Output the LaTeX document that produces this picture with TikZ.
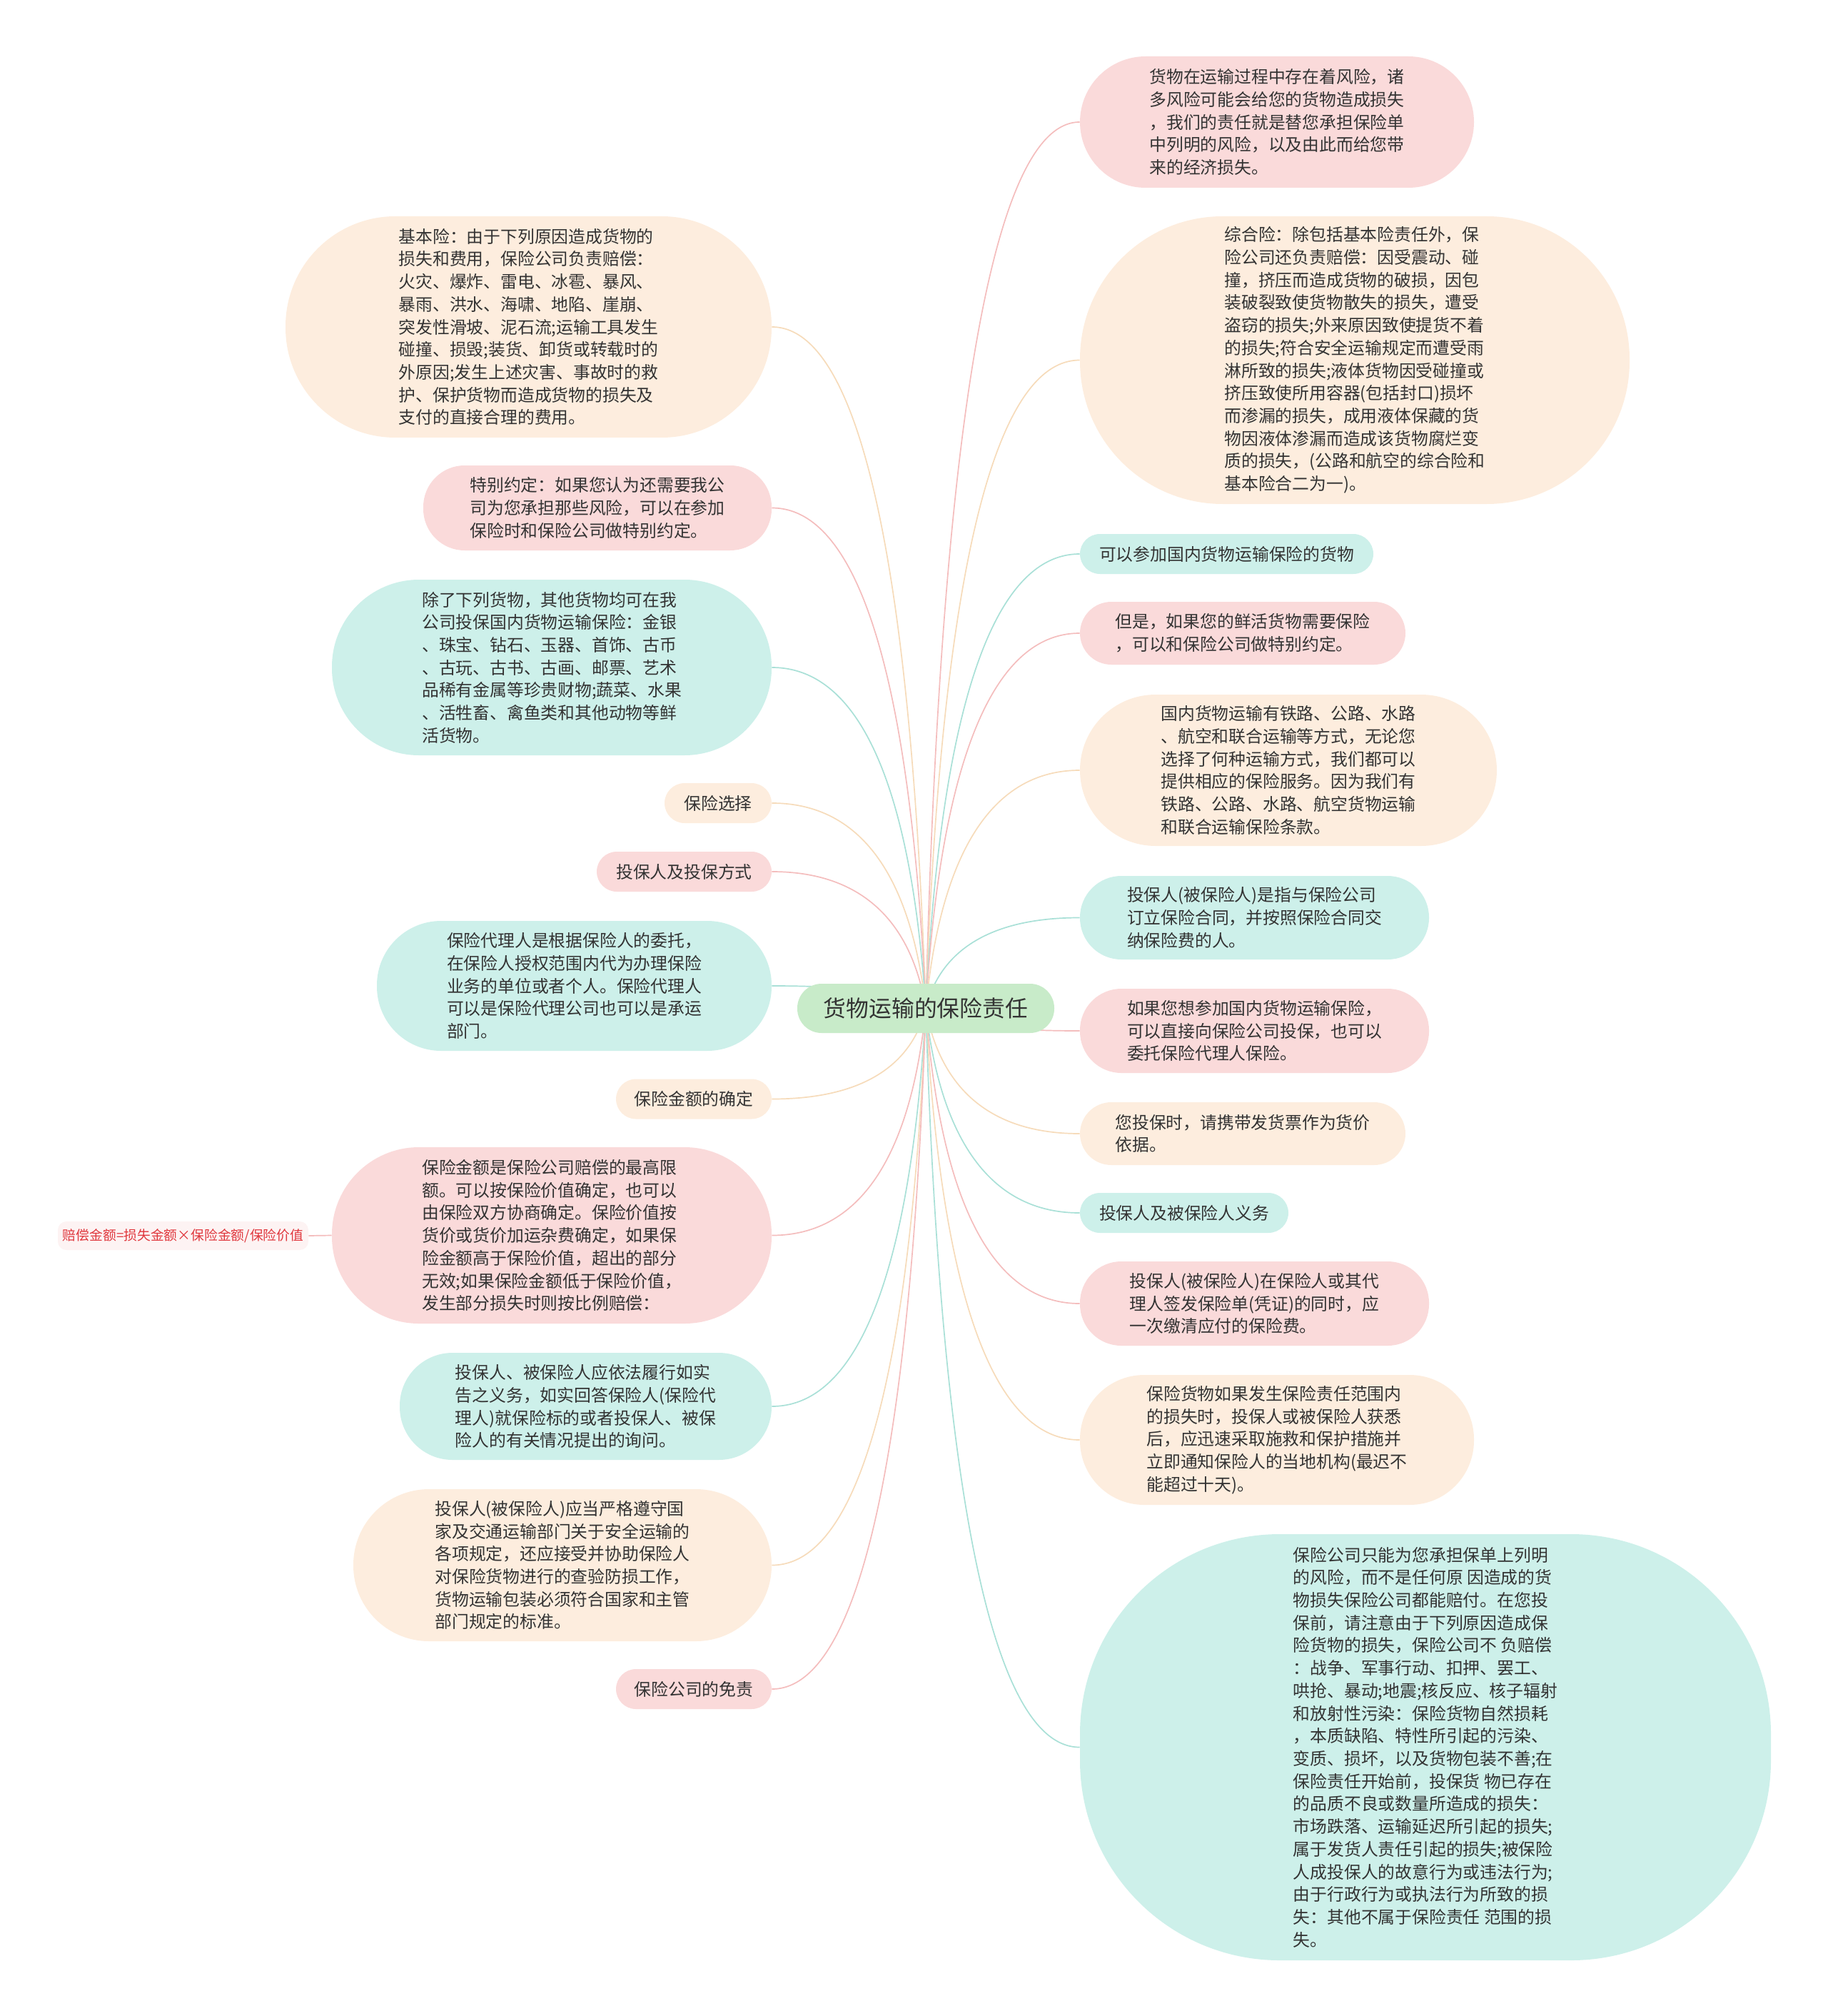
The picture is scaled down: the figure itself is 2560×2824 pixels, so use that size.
\documentclass[tikz,border=0pt]{standalone}
\usepackage{fontspec}
\setmainfont{Noto Sans CJK SC}
\usetikzlibrary{backgrounds,calc}
\definecolor{pinkf}{HTML}{FADADA}
\definecolor{creamf}{HTML}{FDEDDE}
\definecolor{tealf}{HTML}{CDF0EA}
\definecolor{greenf}{HTML}{C8EBC9}
\definecolor{pinkl}{HTML}{F4BDBD}
\definecolor{creaml}{HTML}{F6DBBA}
\definecolor{teall}{HTML}{A9E0D7}
\definecolor{txt}{HTML}{333333}
\definecolor{redt}{HTML}{E0383E}
\definecolor{redf}{HTML}{FDF3F3}
\tikzset{
  box/.style={draw=none, align=left, inner sep=0pt, text=txt,
    font=\fontsize{11.9pt}{15.85pt}\selectfont},
  pinkbox/.style={box, fill=pinkf},
  creambox/.style={box, fill=creamf},
  tealbox/.style={box, fill=tealf},
  link/.style={line width=0.85pt},
  pinklink/.style={link, draw=pinkl},
  creamlink/.style={link, draw=creaml},
  teallink/.style={link, draw=teall},
}
\begin{document}
\begin{tikzpicture}[x=0.5pt,y=-0.5pt]
\useasboundingbox (0,0) rectangle (2560,2824);

% center
\node[box, fill=greenf, minimum width=180pt, minimum height=34.5pt, rounded corners=17pt,
  font=\fontsize{15.9pt}{20pt}\selectfont, align=center] (C) at (1297,1412.5) {货物运输的保险责任};

% right side
\node[pinkbox, minimum width=276pt, minimum height=92pt, rounded corners=46pt] (R1) at (1789,171) {货物在运输过程中存在着风险，诸\\多风险可能会给您的货物造成损失\\，我们的责任就是替您承担保险单\\中列明的风险，以及由此而给您带\\来的经济损失。};
\node[creambox, minimum width=385pt, minimum height=201.5pt, rounded corners=100pt] (R2) at (1898,504.5) {综合险：除包括基本险责任外，保\\险公司还负责赔偿：因受震动、碰\\撞，挤压而造成货物的破损，因包\\装破裂致使货物散失的损失，遭受\\盗窃的损失;外来原因致使提货不着\\的损失;符合安全运输规定而遭受雨\\淋所致的损失;液体货物因受碰撞或\\挤压致使所用容器(包括封口)损坏\\而渗漏的损失，成用液体保藏的货\\物因液体渗漏而造成该货物腐烂变\\质的损失，(公路和航空的综合险和\\基本险合二为一)。};
\node[tealbox, minimum width=205.5pt, minimum height=28pt, rounded corners=14pt] (R3) at (1718.5,776) {可以参加国内货物运输保险的货物};
\node[pinkbox, minimum width=228pt, minimum height=44pt, rounded corners=22pt] (R4) at (1741,887) {但是，如果您的鲜活货物需要保险\\，可以和保险公司做特别约定。};
\node[creambox, minimum width=292pt, minimum height=106pt, rounded corners=53pt] (R5) at (1805,1079) {国内货物运输有铁路、公路、水路\\、航空和联合运输等方式，无论您\\选择了何种运输方式，我们都可以\\提供相应的保险服务。因为我们有\\铁路、公路、水路、航空货物运输\\和联合运输保险条款。};
\node[tealbox, minimum width=244.5pt, minimum height=58.5pt, rounded corners=29pt] (R6) at (1757.5,1285.5) {投保人(被保险人)是指与保险公司\\订立保险合同，并按照保险合同交\\纳保险费的人。};
\node[pinkbox, minimum width=244.5pt, minimum height=59pt, rounded corners=29pt] (R7) at (1757.5,1444) {如果您想参加国内货物运输保险，\\可以直接向保险公司投保，也可以\\委托保险代理人保险。};
\node[creambox, minimum width=228pt, minimum height=44pt, rounded corners=22pt] (R8) at (1741,1588) {您投保时，请携带发货票作为货价\\依据。};
\node[tealbox, minimum width=146pt, minimum height=28pt, rounded corners=14pt] (R9) at (1659,1699) {投保人及被保险人义务};
\node[pinkbox, minimum width=244.5pt, minimum height=59pt, rounded corners=29pt] (R10) at (1757.5,1826) {投保人(被保险人)在保险人或其代\\理人签发保险单(凭证)的同时，应\\一次缴清应付的保险费。};
\node[creambox, minimum width=276pt, minimum height=91pt, rounded corners=45pt] (R11) at (1789,2017) {保险货物如果发生保险责任范围内\\的损失时，投保人或被保险人获悉\\后，应迅速采取施救和保护措施并\\立即通知保险人的当地机构(最迟不\\能超过十天)。};
\node[tealbox, minimum width=484pt, minimum height=298.5pt, rounded corners=140pt] (R12) at (1997,2447.5) {保险公司只能为您承担保单上列明\\的风险，而不是任何原 因造成的货\\物损失保险公司都能赔付。在您投\\保前，请注意由于下列原因造成保\\险货物的损失，保险公司不 负赔偿\\：战争、军事行动、扣押、罢工、\\哄抢、暴动;地震;核反应、核子辐射\\和放射性污染：保险货物自然损耗\\，本质缺陷、特性所引起的污染、\\变质、损坏，以及货物包装不善;在\\保险责任开始前，投保货 物已存在\\的品质不良或数量所造成的损失：\\市场跌落、运输延迟所引起的损失;\\属于发货人责任引起的损失;被保险\\人成投保人的故意行为或违法行为;\\由于行政行为或执法行为所致的损\\失：其他不属于保险责任 范围的损\\失。};

% left side
\node[creambox, minimum width=340.5pt, minimum height=155pt, rounded corners=77pt] (L1) at (740.5,458) {基本险：由于下列原因造成货物的\\损失和费用，保险公司负责赔偿：\\火灾、爆炸、雷电、冰雹、暴风、\\暴雨、洪水、海啸、地陷、崖崩、\\突发性滑坡、泥石流;运输工具发生\\碰撞、损毁;装货、卸货或转载时的\\外原因;发生上述灾害、事故时的救\\护、保护货物而造成货物的损失及\\支付的直接合理的费用。};
\node[pinkbox, minimum width=244pt, minimum height=59.5pt, rounded corners=29pt] (L2) at (837,711.5) {特别约定：如果您认为还需要我公\\司为您承担那些风险，可以在参加\\保险时和保险公司做特别约定。};
\node[tealbox, minimum width=308pt, minimum height=123pt, rounded corners=61pt] (L3) at (773,935) {除了下列货物，其他货物均可在我\\公司投保国内货物运输保险：金银\\、珠宝、钻石、玉器、首饰、古币\\、古玩、古书、古画、邮票、艺术\\品稀有金属等珍贵财物;蔬菜、水果\\、活牲畜、禽鱼类和其他动物等鲜\\活货物。};
\node[creambox, minimum width=75pt, minimum height=28pt, rounded corners=14pt, align=center] (L4) at (1006,1125) {保险选择};
\node[pinkbox, minimum width=122.5pt, minimum height=28pt, rounded corners=14pt, align=center] (L5) at (958.5,1221) {投保人及投保方式};
\node[tealbox, minimum width=276.5pt, minimum height=91pt, rounded corners=45pt] (L6) at (804.5,1381) {保险代理人是根据保险人的委托，\\在保险人授权范围内代为办理保险\\业务的单位或者个人。保险代理人\\可以是保险代理公司也可以是承运\\部门。};
\node[creambox, minimum width=109pt, minimum height=28pt, rounded corners=14pt, align=center] (L7) at (972,1539.5) {保险金额的确定};
\node[pinkbox, minimum width=308pt, minimum height=123.5pt, rounded corners=61pt] (L8) at (773,1730.5) {保险金额是保险公司赔偿的最高限\\额。可以按保险价值确定，也可以\\由保险双方协商确定。保险价值按\\货价或货价加运杂费确定，如果保\\险金额高于保险价值，超出的部分\\无效;如果保险金额低于保险价值，\\发生部分损失时则按比例赔偿：};
\node[box, fill=redf, text=redt, minimum width=175.5pt, minimum height=20pt, rounded corners=6pt,
  font=\fontsize{9.4pt}{12pt}\selectfont, align=center] (L8a) at (256.5,1731) {赔偿金额=损失金额×保险金额/保险价值};
\node[tealbox, minimum width=260.5pt, minimum height=75pt, rounded corners=37pt] (L9) at (820.5,1970) {投保人、被保险人应依法履行如实\\告之义务，如实回答保险人(保险代\\理人)就保险标的或者投保人、被保\\险人的有关情况提出的询问。};
\node[creambox, minimum width=293pt, minimum height=106.5pt, rounded corners=53pt] (L10) at (788,2192.5) {投保人(被保险人)应当严格遵守国\\家及交通运输部门关于安全运输的\\各项规定，还应接受并协助保险人\\对保险货物进行的查验防损工作，\\货物运输包装必须符合国家和主管\\部门规定的标准。};
\node[pinkbox, minimum width=109pt, minimum height=28pt, rounded corners=14pt, align=center] (L11) at (972,2366) {保险公司的免责};

% connectors
\begin{scope}[on background layer]
\foreach \k/\s in {R1/pinklink,R2/creamlink,R3/teallink,R4/pinklink,R5/creamlink,R6/teallink,R7/pinklink,R8/creamlink,R9/teallink,R10/pinklink,R11/creamlink,R12/teallink}
  \draw[\s] let \p1=(C.center), \p2=(\k.west) in
    (C.center) .. controls ({\x1+0.08*(\x2-\x1)},{\y1+0.55*(\y2-\y1)}) and ({\x1+0.35*(\x2-\x1)},\y2) .. (\k.west);
\foreach \k/\s in {L1/creamlink,L2/pinklink,L3/teallink,L4/creamlink,L5/pinklink,L6/teallink,L7/creamlink,L8/pinklink,L9/teallink,L10/creamlink,L11/pinklink}
  \draw[\s] let \p1=(C.center), \p2=(\k.east) in
    (C.center) .. controls ({\x1+0.08*(\x2-\x1)},{\y1+0.55*(\y2-\y1)}) and ({\x1+0.35*(\x2-\x1)},\y2) .. (\k.east);
\draw[pinklink] (L8.west) -- (L8a.east);
\end{scope}
\end{tikzpicture}
\end{document}
